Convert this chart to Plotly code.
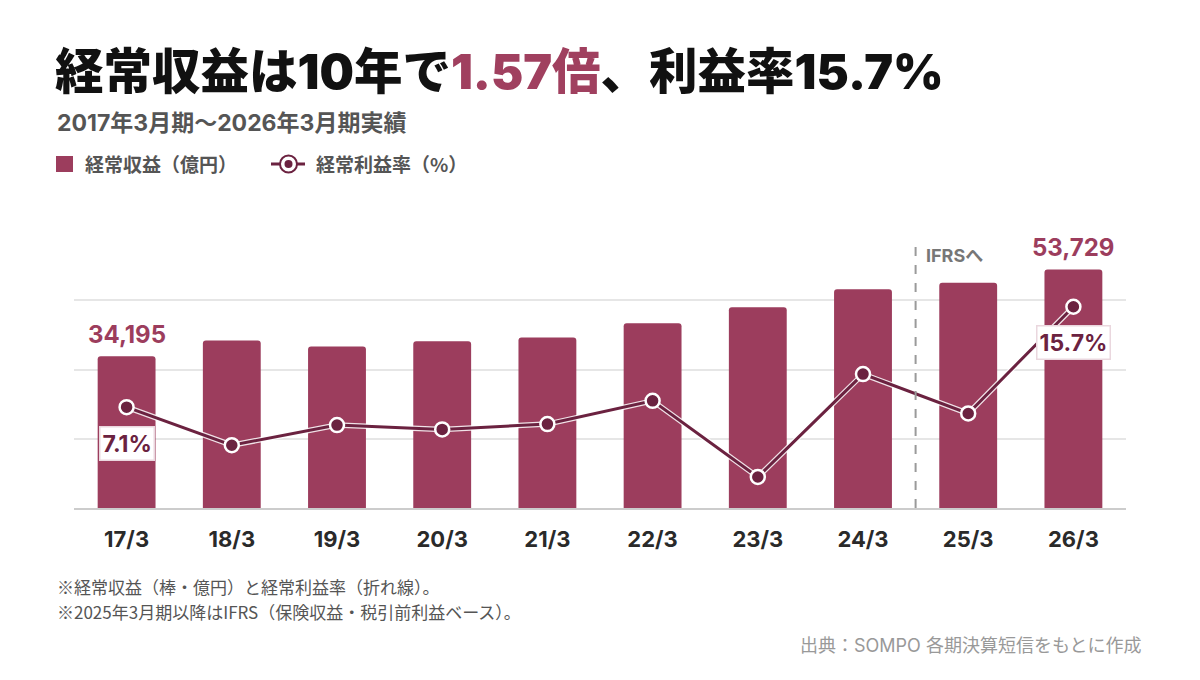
import plotly.graph_objects as go

# Fiscal periods (March year-end) and values
periods = ["17/3", "18/3", "19/3", "20/3", "21/3", "22/3", "23/3", "24/3", "25/3", "26/3"]
ordinary_income = [34195, 37730, 36380, 37570, 38410, 41630, 45240, 49300, 50720, 53729]
profit_margin = [7.1, 3.84, 5.56, 5.19, 5.65, 7.64, 1.12, 9.93, 6.56, 15.7]

grid_vals = [15600, 31200, 46800]

BAR = "#9c3d5d"
LINE = "#6b2240"
FONT = "Inter, 'Noto Sans CJK JP'"
CJK = "'Noto Sans CJK JP'"

# plot area in pixels (page is 1200 x 680)
L, R, T, B = 74, 74, 231, 172
W, H = 1200, 680


def px(x):
    return (x - L) / (W - L - R)


def py(y):
    return (H - B - y) / (H - T - B)


fig = go.Figure()

fig.add_trace(go.Bar(
    x=periods, y=ordinary_income, name="経常収益（億円）",
    marker=dict(color=BAR, cornerradius=3, line=dict(width=0)),
    hoverinfo="x+y",
))

# white halo under the margin line
fig.add_trace(go.Scatter(
    x=periods, y=profit_margin, yaxis="y2", mode="lines",
    line=dict(color="rgba(255,255,255,0.85)", width=5.5),
    hoverinfo="skip",
))
fig.add_trace(go.Scatter(
    x=periods, y=profit_margin, yaxis="y2", mode="lines+markers",
    name="経常利益率（%）",
    line=dict(color=LINE, width=3),
    marker=dict(size=14, color=LINE, line=dict(color="white", width=2.5)),
))

# IFRS transition marker between 24/3 and 25/3
fig.add_shape(
    type="line", x0=7.5, x1=7.5, xref="x", y0=0, y1=py(243), yref="paper",
    line=dict(color="#9a9a9a", width=2, dash="dash"),
)
fig.add_annotation(
    x=7.5, xref="x", y=py(255), yref="paper", xshift=8,
    text="IFRSへ", showarrow=False, xanchor="left", yanchor="middle",
    font=dict(family=FONT, size=18, color="#777777", weight="bold"),
)

# value labels on first and last bar
for i in (0, len(periods) - 1):
    fig.add_annotation(
        x=periods[i], y=ordinary_income[i], yshift=22,
        text="{:,}".format(ordinary_income[i]), showarrow=False,
        yanchor="middle",
        font=dict(family=FONT, size=24, color=BAR, weight="bold"),
    )
    fig.add_annotation(
        x=periods[i], y=profit_margin[i], yref="y2", yshift=-36,
        text="{:.1f}%".format(profit_margin[i]), showarrow=False,
        yanchor="middle", bgcolor="white", bordercolor="#ead7de",
        borderwidth=1.5, borderpad=2,
        font=dict(family=FONT, size=23, color=LINE, weight="bold"),
    )

# legend drawn by hand
fig.add_shape(type="rect", xref="paper", yref="paper",
              x0=px(56), x1=px(73), y0=py(172), y1=py(156),
              fillcolor=BAR, line=dict(width=0))
fig.add_shape(type="line", xref="paper", yref="paper",
              x0=px(271), x1=px(305), y0=py(164), y1=py(164),
              line=dict(color=LINE, width=3))
fig.add_shape(type="circle", xref="paper", yref="paper",
              x0=px(280), x1=px(297), y0=py(172.5), y1=py(155.5),
              fillcolor="white", line=dict(color=LINE, width=2))
fig.add_shape(type="circle", xref="paper", yref="paper",
              x0=px(284.5), x1=px(292.5), y0=py(168), y1=py(160),
              fillcolor=LINE, line=dict(width=0))
for x0, label in ((83, "経常収益（億円）"), (314, "経常利益率（%）")):
    fig.add_annotation(
        x=px(x0), y=py(164), xref="paper", yref="paper", text=label,
        showarrow=False, xanchor="left", yanchor="middle",
        font=dict(family=CJK, size=19, color="#555555", weight="bold"),
    )

# subtitle, notes, source
fig.add_annotation(
    x=px(55), y=py(123), xref="paper", yref="paper",
    text="2017年3月期〜2026年3月期実績", showarrow=False,
    xanchor="left", yanchor="middle",
    font=dict(family=FONT, size=23, color="#555555", weight="bold"),
)
for y0, note in ((586, "※経常収益（棒・億円）と経常利益率（折れ線）。"),
                 (611, "※2025年3月期以降はIFRS（保険収益・税引前利益ベース）。")):
    fig.add_annotation(
        x=px(55), y=py(y0), xref="paper", yref="paper", text=note,
        showarrow=False, xanchor="left", yanchor="middle",
        font=dict(family=CJK, size=17, color="#555555"),
    )
fig.add_annotation(
    x=px(1144), y=py(645), xref="paper", yref="paper",
    text="出典：SOMPO 各期決算短信をもとに作成", showarrow=False,
    xanchor="right", yanchor="middle",
    font=dict(family=FONT, size=18, color="#999999"),
)

fig.update_layout(
    width=W, height=H,
    paper_bgcolor="white", plot_bgcolor="white",
    margin=dict(l=L, r=R, t=T, b=B),
    title=dict(
        text="経常収益は10年で<span style='color:#a0405f'>1.57倍</span>、利益率15.7%",
        xref="container", yref="container", x=55 / W, y=1 - 72 / H,
        xanchor="left", yanchor="middle",
        font=dict(family=FONT, size=48.5, color="#111111", weight=900),
    ),
    bargap=0.45,
    showlegend=False,
    xaxis=dict(
        type="category", range=[-0.5, len(periods) - 0.5],
        showgrid=False, showline=True, linecolor="#cccccc", linewidth=2,
        ticks="outside", ticklen=11, tickcolor="rgba(0,0,0,0)",
        tickfont=dict(family=FONT, size=22, color="#2a2a2a", weight="bold"),
        fixedrange=True,
    ),
    yaxis=dict(
        range=[0, 62400], tickvals=grid_vals, showticklabels=False,
        showgrid=True, gridcolor="#e6e6e6", gridwidth=1.5,
        zeroline=False, fixedrange=True,
    ),
    yaxis2=dict(
        range=[-1.54, 22.19], overlaying="y", side="right",
        showgrid=False, showticklabels=False, zeroline=False, fixedrange=True,
    ),
    font=dict(family=FONT),
)

# drop the browser's default 8px body margin so the figure sits at (0, 0)
fig.write_html(
    "out.html",
    config={"displayModeBar": False},
    post_script="document.body.style.margin = '0';",
)
